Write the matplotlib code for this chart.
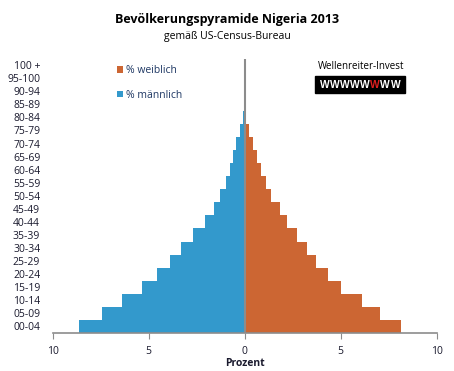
import numpy as np
import matplotlib.pyplot as plt

plt.rcParams['font.family'] = ['Open Sans', 'DejaVu Sans']

groups = ["00-04", "05-09", "10-14", "15-19", "20-24", "25-29", "30-34", "35-39",
          "40-44", "45-49", "50-54", "55-59", "60-64", "65-69", "70-74", "75-79",
          "80-84", "85-89", "90-94", "95-100", "100 +"]
maennlich = [8.65, 7.45, 6.4, 5.36, 4.58, 3.9, 3.33, 2.7, 2.08, 1.61, 1.3, 0.99,
             0.78, 0.63, 0.47, 0.26, 0.1, 0.04, 0.01, 0.0, 0.0]
weiblich = [8.16, 7.07, 6.13, 5.03, 4.36, 3.73, 3.26, 2.74, 2.22, 1.86, 1.39, 1.13,
            0.87, 0.66, 0.45, 0.24, 0.09, 0.03, 0.01, 0.0, 0.0]

blau = "#3399cc"
orange = "#cc6633"
textfarbe = "#1a1a2e"

fig = plt.figure(figsize=(4.54, 3.71), dpi=100)
ax = fig.add_axes([0.116, 0.1024, 0.846, 0.7396])

y = np.arange(len(groups))
ax.barh(y, -np.array(maennlich), height=1.0, color=blau, label="% männlich")
ax.barh(y, weiblich, height=1.0, color=orange, label="% weiblich")
ax.axvline(0, color="#8c8c8c", lw=1.5)

ax.set_xlim(-10, 10)
ax.set_ylim(-0.5, len(groups) - 0.5)
ax.set_yticks(y)
ax.set_yticklabels(groups)
ax.set_xticks([-10, -5, 0, 5, 10])
ax.set_xticklabels(["10", "5", "0", "5", "10"])
ax.tick_params(axis="y", length=0, pad=9, labelsize=7.5, labelcolor=textfarbe)
ax.tick_params(axis="x", length=4, direction="out", color="#8c8c8c",
               labelsize=7.5, labelcolor=textfarbe, pad=5)
for s in ["top", "right", "left"]:
    ax.spines[s].set_visible(False)
ax.spines["bottom"].set_color("#8c8c8c")
ax.spines["bottom"].set_linewidth(1.2)
ax.set_xlabel("Prozent", fontsize=7.5, fontweight="bold", labelpad=1, color=textfarbe)

# Legende
h, l = ax.get_legend_handles_labels()
leg = ax.legend(h[::-1], l[::-1], loc="upper left", bbox_to_anchor=(0.142, 1.01),
                frameon=False, fontsize=7.5, handlelength=0.6, handleheight=0.6,
                handletextpad=0.3, labelspacing=1.3, labelcolor="#1f3864")

fig.text(0.5, 0.948, "Bevölkerungspyramide Nigeria 2013", ha="center", va="center",
         fontsize=9, fontweight="bold")
fig.text(0.5, 0.901, "gemäß US-Census-Bureau", ha="center", va="center", fontsize=7.5)

# Logo
fig.text(0.795, 0.82, "Wellenreiter-Invest", ha="center", va="center", fontsize=7)
fig.patches.append(plt.Rectangle((0.694, 0.749), 0.198, 0.046, transform=fig.transFigure,
                                 color="black"))
x0 = 0.716
for i in range(8):
    fig.text(x0 + i * 0.0221, 0.771, "W", ha="center", va="center", fontsize=7.4,
             fontweight="bold", color="#e02020" if i == 5 else "white",
             fontfamily="Liberation Sans")

fig.savefig("out.png", dpi=100)
